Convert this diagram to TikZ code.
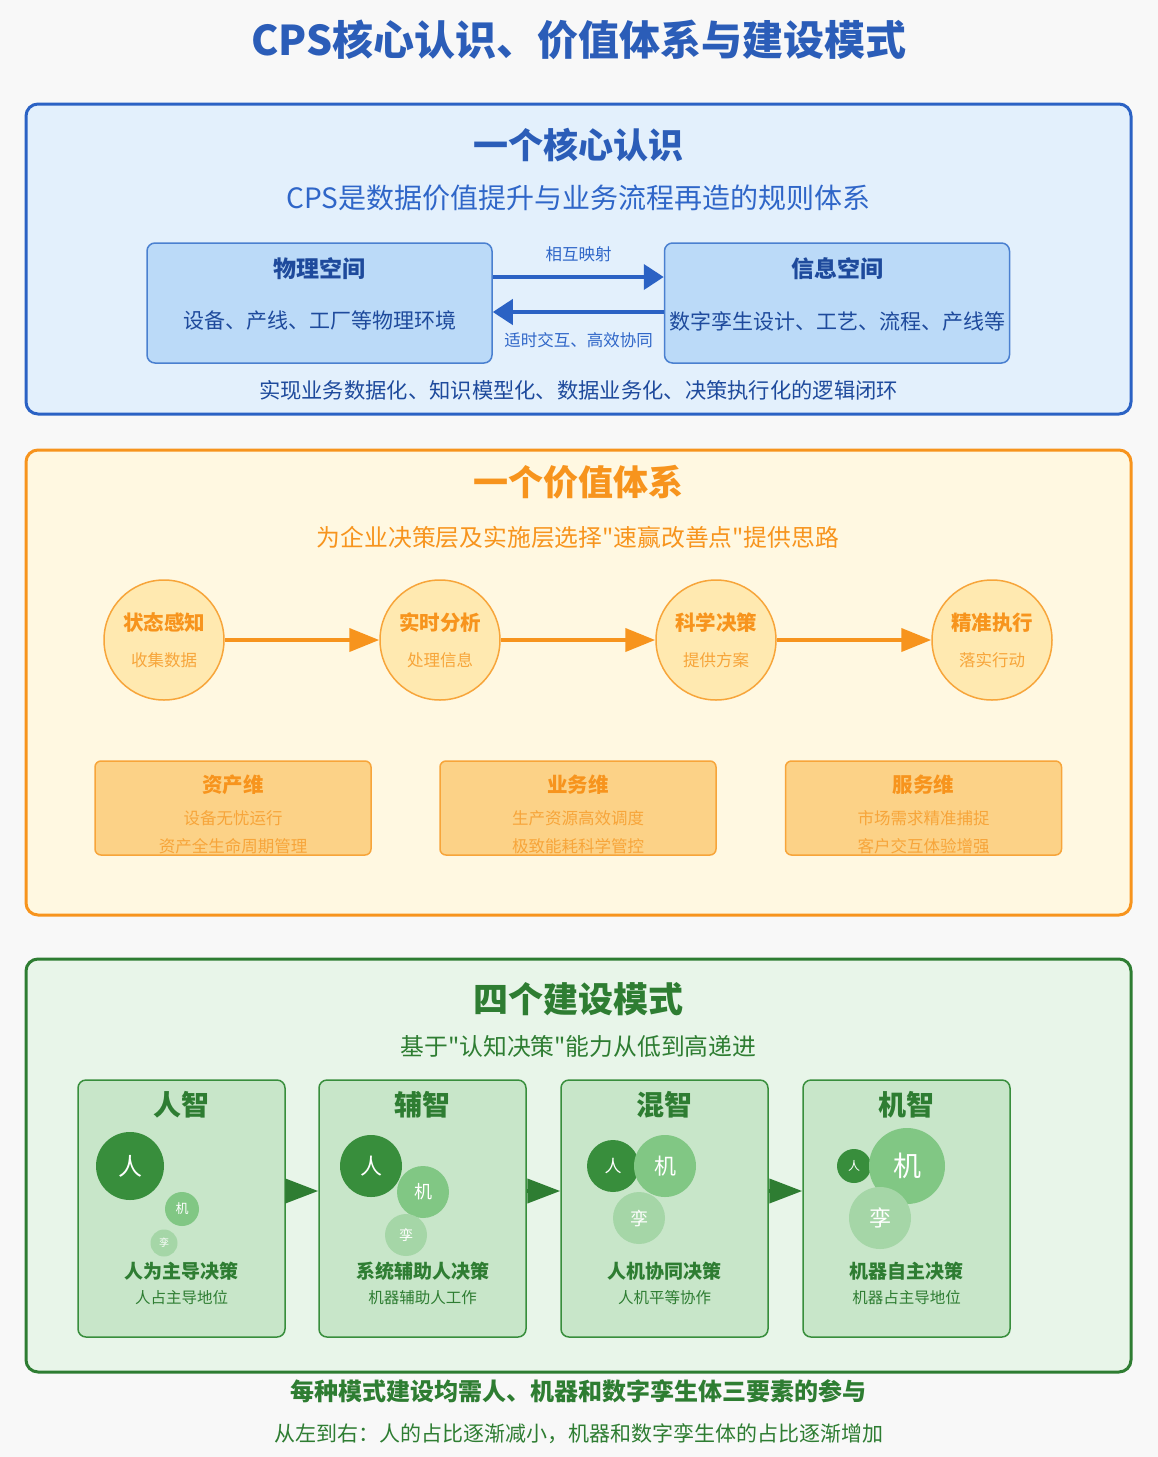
\documentclass[tikz,border=0pt]{standalone}
\usepackage{fontspec}
\setmainfont{Noto Sans CJK SC}[Ligatures=TeXOff]
\usetikzlibrary{arrows.meta}
\newcommand\fsz[1]{\fontsize{#1}{#1}\selectfont}
\definecolor{pagebg}{HTML}{F8F8F8}
\definecolor{titleblue}{HTML}{2B5DB8}
\definecolor{blueline}{HTML}{2B62C4}
\definecolor{bluebg}{HTML}{E3F0FC}
\definecolor{bluebox}{HTML}{BBDAF8}
\definecolor{blueboxline}{HTML}{4A80D0}
\definecolor{bluedark}{HTML}{1E4A9C}
\definecolor{bluetext}{HTML}{2F66C8}
\definecolor{orange}{HTML}{F7941D}
\definecolor{orangebg}{HTML}{FFF8E1}
\definecolor{orangecirc}{HTML}{FFE9B0}
\definecolor{orangebox}{HTML}{FCD287}
\definecolor{orangelight}{HTML}{F7A53A}
\definecolor{greenline}{HTML}{2E7D32}
\definecolor{greenbg}{HTML}{E8F5E9}
\definecolor{greenpanel}{HTML}{C8E6C9}
\definecolor{greenmid}{HTML}{388E3C}
\definecolor{greenA}{HTML}{81C784}
\definecolor{greenB}{HTML}{A5D6A7}
\tikzset{
  section/.style={draw, line width=3pt, rounded corners=12pt, minimum width=1105pt, inner sep=0pt},
  spacebox/.style={draw=blueboxline, fill=bluebox, line width=1.5pt, rounded corners=8pt,
    minimum width=345pt, minimum height=120pt, inner sep=0pt},
  stagecirc/.style={circle, draw=orangelight, fill=orangecirc, line width=1.5pt, minimum size=120pt, inner sep=0pt},
  dimbox/.style={draw=orangelight, fill=orangebox, line width=1.5pt, rounded corners=6pt,
    minimum width=276pt, minimum height=94pt, inner sep=0pt},
  modepanel/.style={draw=greenmid, fill=greenpanel, line width=1.5pt, rounded corners=8pt,
    minimum width=207pt, minimum height=257pt, inner sep=0pt},
  dot/.style={circle, inner sep=0pt, text=white, minimum size=#1},
  bluearrow/.style={draw=blueline, line width=4pt, -{Triangle[length=20pt,width=25pt]}},
  orangearrow/.style={draw=orange, line width=4pt, -{Triangle[length=30pt,width=23pt]}},
  greenarrow/.style={draw=greenline, line width=4pt, -{Triangle[length=33pt,width=24pt]}},
  lbl/.style={inner sep=0pt, anchor=center},
}
\begin{document}
\begin{tikzpicture}[x=1pt,y=-1pt]
\fill[pagebg] (0,0) rectangle (1158,1457);
\useasboundingbox (0,0) rectangle (1158,1457);

% main title
\node[lbl, text=titleblue, font=\fsz{41}\bfseries] (title) at (579,40) {CPS核心认识、价值体系与建设模式};

% ---------- one core understanding ----------
\node[section, draw=blueline, fill=bluebg, minimum height=310pt] (sec1) at (578.5,259) {};
\node[lbl, text=titleblue, font=\fsz{35}\bfseries] (sec1t) at (578.5,145) {一个核心认识};
\node[lbl, text=bluetext, font=\fsz{28}] (sec1s) at (578.5,198) {CPS是数据价值提升与业务流程再造的规则体系};

\node[spacebox] (phys) at (319.5,303) {};
\node[spacebox] (info) at (837,303) {};
\node[lbl, text=bluedark, font=\fsz{23}\bfseries] (physT) at (319.5,269) {物理空间};
\node[lbl, text=bluedark, font=\fsz{21}] (physD) at (319.5,321) {设备、产线、工厂等物理环境};
\node[lbl, text=bluedark, font=\fsz{23}\bfseries] (infoT) at (837,269) {信息空间};
\node[lbl, text=bluedark, font=\fsz{21}] (infoD) at (837,321) {数字孪生设计、工艺、流程、产线等};

\draw[bluearrow] ([yshift=26pt]phys.east) -- ([yshift=26pt]info.west);
\draw[bluearrow] ([yshift=-9pt]info.west) -- ([yshift=-9pt]phys.east);
\node[lbl, text=bluetext, font=\fsz{16.5}] (mapL) at (578.5,254) {相互映射};
\node[lbl, text=bluetext, font=\fsz{16.5}] (interL) at (578.5,340) {适时交互、高效协同};
\node[lbl, text=bluedark, font=\fsz{21.3}] (loop) at (578.5,390) {实现业务数据化、知识模型化、数据业务化、决策执行化的逻辑闭环};

% ---------- one value system ----------
\node[section, draw=orange, fill=orangebg, minimum height=465pt] (sec2) at (578.5,682.5) {};
\node[lbl, text=orange, font=\fsz{35}\bfseries] (sec2t) at (578.5,482) {一个价值体系};
\node[lbl, text=orange, font=\fsz{23.8}] (sec2s) at (578,537) {为企业决策层及实施层选择"速赢改善点"提供思路};

\node[stagecirc] (c1) at (164,640) {};
\node[stagecirc] (c2) at (440,640) {};
\node[stagecirc] (c3) at (716,640) {};
\node[stagecirc] (c4) at (992,640) {};
\draw[orangearrow] (c1) -- (c2);
\draw[orangearrow] (c2) -- (c3);
\draw[orangearrow] (c3) -- (c4);
\foreach \n/\x/\t/\s in {1/164/状态感知/收集数据, 2/440/实时分析/处理信息, 3/716/科学决策/提供方案, 4/992/精准执行/落实行动}{
  \node[lbl, text=orange, font=\fsz{20.5}\bfseries] (c\n t) at (\x,623) {\t};
  \node[lbl, text=orangelight, font=\fsz{16.5}] (c\n s) at (\x,660) {\s};
}

\node[dimbox] (d1) at (233,808) {};
\node[dimbox] (d2) at (578,808) {};
\node[dimbox] (d3) at (923.5,808) {};
\foreach \n/\x/\t/\a/\b in {1/233/资产维/设备无忧运行/资产全生命周期管理, 2/578/业务维/生产资源高效调度/极致能耗科学管控, 3/923.5/服务维/市场需求精准捕捉/客户交互体验增强}{
  \node[lbl, text=orange, font=\fsz{20.5}\bfseries] (d\n t) at (\x,785) {\t};
  \node[lbl, text=orangelight, font=\fsz{16.5}] (d\n a) at (\x,818) {\a};
  \node[lbl, text=orangelight, font=\fsz{16.5}] (d\n b) at (\x,846) {\b};
}

% ---------- four construction modes ----------
\node[section, draw=greenline, fill=greenbg, minimum height=413pt] (sec3) at (578.5,1165.5) {};
\node[lbl, text=greenline, font=\fsz{35}\bfseries] (sec3t) at (578.5,999) {四个建设模式};
\node[lbl, text=greenline, font=\fsz{23.8}] (sec3s) at (578.5,1046) {基于"认知决策"能力从低到高递进};

\node[modepanel] (p1) at (181.5,1208.5) {};
\node[modepanel] (p2) at (422.5,1208.5) {};
\node[modepanel] (p3) at (664.5,1208.5) {};
\node[modepanel] (p4) at (906.5,1208.5) {};
\draw[greenarrow] ([yshift=17.5pt]p1.east) -- ([yshift=17.5pt]p2.west);
\draw[greenarrow] ([yshift=17.5pt]p2.east) -- ([yshift=17.5pt]p3.west);
\draw[greenarrow] ([yshift=17.5pt]p3.east) -- ([yshift=17.5pt]p4.west);

\foreach \n/\x/\t/\a/\b in {1/181.5/人智/人为主导决策/人占主导地位, 2/422.5/辅智/系统辅助人决策/机器辅助人工作, 3/664.5/混智/人机协同决策/人机平等协作, 4/906.5/机智/机器自主决策/机器占主导地位}{
  \node[lbl, text=greenline, font=\fsz{28}\bfseries] (p\n t) at (\x,1105) {\t};
  \node[lbl, text=greenline, font=\fsz{19}\bfseries] (p\n a) at (\x,1271) {\a};
  \node[lbl, text=greenline, font=\fsz{15.5}] (p\n b) at (\x,1298) {\b};
}

% share circles: human, machine, digital twin
\node[dot=68pt, fill=greenmid, font=\fsz{24}] (h1) at (130,1166) {人};
\node[dot=34pt, fill=greenA, font=\fsz{13}] (m1) at (182,1209) {机};
\node[dot=27pt, fill=greenB, font=\fsz{10}] (t1) at (164,1243) {孪};

\node[dot=62pt, fill=greenmid, font=\fsz{22}] (h2) at (371,1166) {人};
\node[dot=52pt, fill=greenA, font=\fsz{18}] (m2) at (423,1192) {机};
\node[dot=42pt, fill=greenB, font=\fsz{14}] (t2) at (406,1235) {孪};

\node[dot=52pt, fill=greenmid, font=\fsz{17}] (h3) at (613,1166) {人};
\node[dot=62pt, fill=greenA, font=\fsz{22}] (m3) at (665,1166) {机};
\node[dot=52pt, fill=greenB, font=\fsz{18}] (t3) at (639,1218) {孪};

\node[dot=34pt, fill=greenmid, font=\fsz{12}] (h4) at (854,1166) {人};
\node[dot=76pt, fill=greenA, font=\fsz{28}] (m4) at (907,1166) {机};
\node[dot=62pt, fill=greenB, font=\fsz{22}] (t4) at (880,1218) {孪};

% closing notes
\node[lbl, text=greenline, font=\fsz{24}\bfseries] (note1) at (578.5,1391) {每种模式建设均需人、机器和数字孪生体三要素的参与};
\node[lbl, text=greenline, font=\fsz{21}] (note2) at (578.5,1434) {从左到右：人的占比逐渐减小，机器和数字孪生体的占比逐渐增加};
\end{tikzpicture}
\end{document}
